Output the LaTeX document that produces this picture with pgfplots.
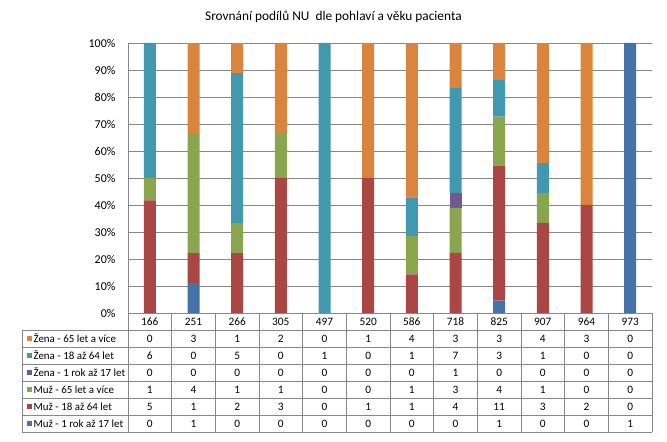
\documentclass[border=0pt]{standalone}
\usepackage{pgfplots}
\usepackage{pgfplotstable}
\pgfplotsset{compat=1.18}
\usepackage{fontspec}
\setmainfont{Carlito}
\definecolor{cM1}{HTML}{4572A7}
\definecolor{cM2}{HTML}{AA4643}
\definecolor{cM3}{HTML}{89A54E}
\definecolor{cZ1}{HTML}{71588F}
\definecolor{cZ2}{HTML}{4198AF}
\definecolor{cZ3}{HTML}{DB843D}
\definecolor{gridg}{HTML}{878787}

% counts per diagnosis code
\pgfplotstableread{
id  m1 m2 m3 z1 z2 z3
166 0  5  1  0  6  0
251 1  1  4  0  0  3
266 0  2  1  0  5  1
305 0  3  1  0  0  2
497 0  0  0  0  1  0
520 0  1  0  0  0  1
586 0  1  1  0  1  4
718 0  4  3  1  7  3
825 1  11 4  0  3  3
907 0  3  1  0  1  4
964 0  2  0  0  0  3
973 1  0  0  0  0  0
}\data
\pgfplotstablecreatecol[create col/expr={\thisrow{m1}+\thisrow{m2}+\thisrow{m3}+\thisrow{z1}+\thisrow{z2}+\thisrow{z3}}]{tot}\data

\begin{document}
\fontsize{8.5}{10}\selectfont
\begin{tikzpicture}
\path[use as bounding box] (-96pt,-96.75pt) rectangle (404.25pt,234.75pt);
\begin{axis}[
    at={(0,0)}, anchor=south west,
    scale only axis,
    width=393pt, height=202.5pt,
    ybar stacked,
    bar width=9pt,
    xmin=-0.5, xmax=11.5,
    ymin=0, ymax=100,
    xtick=\empty,
    ytick distance=10,
    yticklabel={\pgfmathprintnumber{\tick}\%},
    /pgf/number format/assume math mode=true,
    ymajorgrids,
    grid style={gridg, line width=0.5pt},
    axis line style={gridg, line width=0.5pt},
    axis x line*=bottom,
    axis y line*=left,
    y axis line style={-},
    x axis line style={-},
    major tick length=0pt,
    yticklabel style={font=\fontsize{9}{10.8}\selectfont, xshift=-6.4pt},
    every axis plot/.append style={draw=none},
    clip=false,
]
\addplot[fill=cM1] table[x expr=\coordindex, y expr=100*\thisrow{m1}/\thisrow{tot}]{\data};
\addplot[fill=cM2] table[x expr=\coordindex, y expr=100*\thisrow{m2}/\thisrow{tot}]{\data};
\addplot[fill=cM3] table[x expr=\coordindex, y expr=100*\thisrow{m3}/\thisrow{tot}]{\data};
\addplot[fill=cZ1] table[x expr=\coordindex, y expr=100*\thisrow{z1}/\thisrow{tot}]{\data};
\addplot[fill=cZ2] table[x expr=\coordindex, y expr=100*\thisrow{z2}/\thisrow{tot}]{\data};
\addplot[fill=cZ3] table[x expr=\coordindex, y expr=100*\thisrow{z3}/\thisrow{tot}]{\data};
\end{axis}

% title
\node[font=\fontsize{10}{12}\selectfont] at (154.1pt,222pt) {Srovnání podílů NU\ \ dle pohlaví a věku\ pacienta};

% data table
\def\cw{32.75pt}
\def\rh{12.75pt}
\draw[gridg, line width=0.5pt] (0,0) -- (0,-7*\rh);
\foreach \c in {1,...,12}
  \draw[gridg, line width=0.5pt] (\c*\cw,0) -- (\c*\cw,-7*\rh);
\foreach \r in {1,...,7}
  \draw[gridg, line width=0.5pt] (-79.5pt,-\r*\rh) -- (12*\cw,-\r*\rh);
\draw[gridg, line width=0.5pt] (-79.5pt,-\rh) -- (-79.5pt,-7*\rh);
% header
\foreach \c in {0,...,11}{
  \pgfplotstablegetelem{\c}{id}\of\data
  \node at ({(\c+0.5)*\cw},-0.5*\rh) {\pgfplotsretval};
}
% rows
\foreach \col/\clr/\lbl [count=\r] in {
  z3/cZ3/{Žena - 65 let a více},
  z2/cZ2/{Žena - 18 až 64 let},
  z1/cZ1/{Žena - 1 rok až 17 let},
  m3/cM3/{Muž - 65 let a více},
  m2/cM2/{Muž - 18 až 64 let},
  m1/cM1/{Muž - 1 rok až 17 let}}{
  \fill[\clr] (-76pt,{-(\r+0.5)*\rh-2.1pt}) rectangle ++(4.2pt,4.2pt);
  \node[anchor=west, inner sep=0pt, font=\fontsize{8.2}{10}\selectfont] at (-71pt,{-(\r+0.5)*\rh}) {\lbl};
  \foreach \c in {0,...,11}{
    \pgfplotstablegetelem{\c}{\col}\of\data
    \node at ({(\c+0.5)*\cw},{-(\r+0.5)*\rh}) {\pgfplotsretval};
  }
}
\end{tikzpicture}
\end{document}
